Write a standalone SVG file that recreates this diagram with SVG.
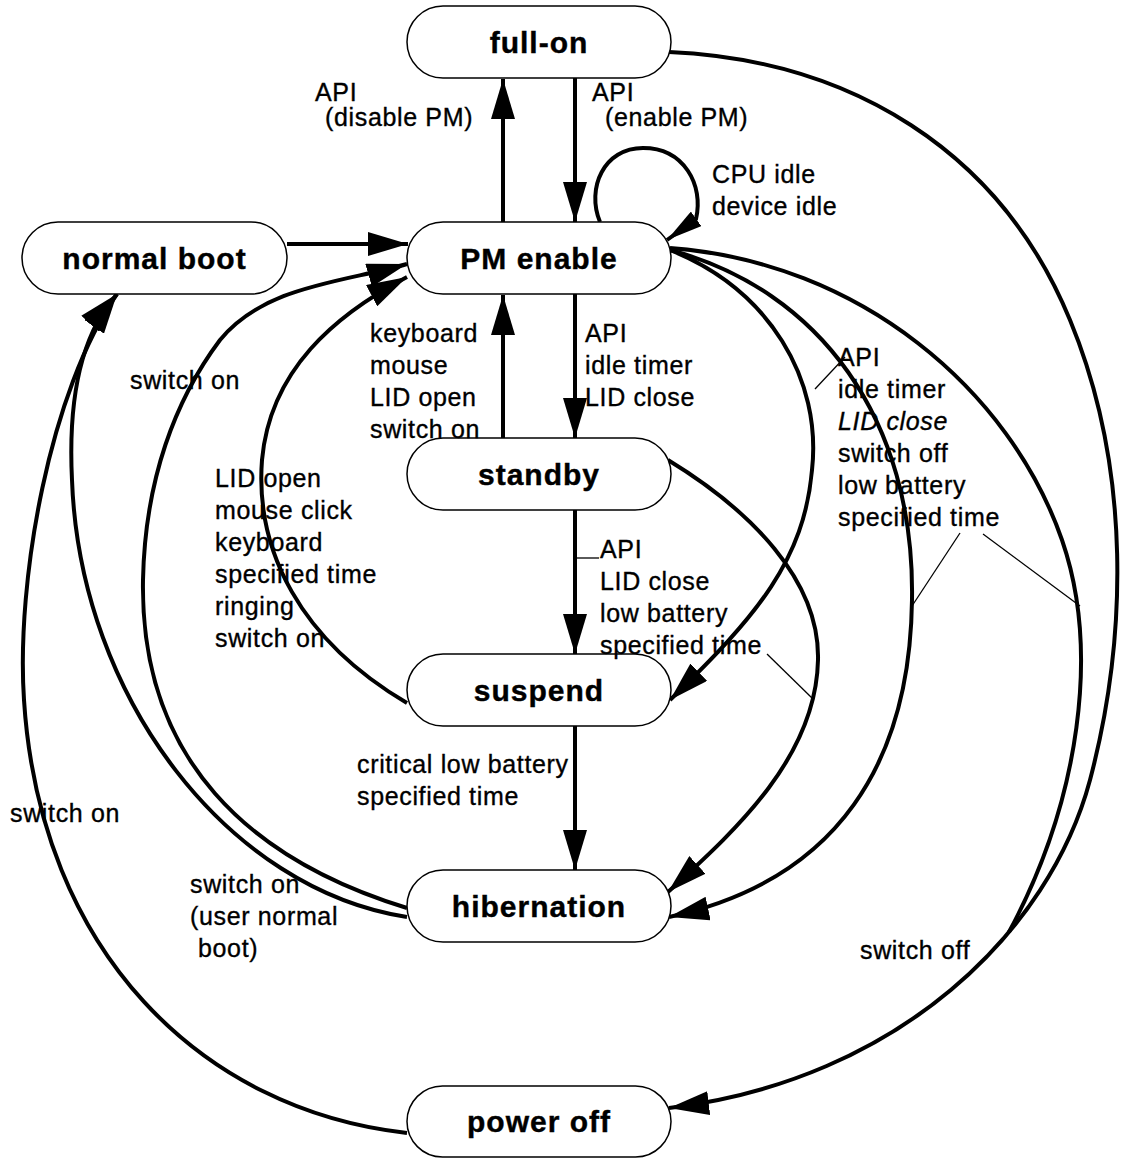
<svg xmlns="http://www.w3.org/2000/svg" width="1121" height="1158" viewBox="0 0 1121 1158">
<defs>
<style>
.node rect{fill:#fff;stroke:#000;stroke-width:1.5}
.node text{font-family:"Liberation Sans",Arial,Helvetica,sans-serif;font-weight:bold;font-size:30px;letter-spacing:1px;text-anchor:middle;fill:#000;stroke:#000;stroke-width:0.4}
.edge{fill:none;stroke:#000;stroke-width:4;marker-end:url(#ah)}
.plain{fill:none;stroke:#000;stroke-width:4}
.loop{fill:none;stroke:#000;stroke-width:4;marker-end:url(#ahs)}
.lead{fill:none;stroke:#000;stroke-width:1.3}
.lbl{font-family:"Liberation Sans",Arial,Helvetica,sans-serif;font-size:25px;letter-spacing:0.65px;fill:#000;stroke:#000;stroke-width:0.35}
</style>
<marker id="ah" markerUnits="userSpaceOnUse" viewBox="0 0 40 24" markerWidth="40" markerHeight="24" refX="40" refY="12" orient="auto"><path d="M0,0 L40,12 L0,24 Z" fill="#000"/></marker>
<marker id="ahs" markerUnits="userSpaceOnUse" viewBox="0 0 36 18" markerWidth="36" markerHeight="18" refX="36" refY="9" orient="auto"><path d="M0,0 L36,9 L0,18 Z" fill="#000"/></marker>
</defs>
<rect width="1121" height="1158" fill="#fff"/>

<g id="connectors">
  <path class="edge" d="M503,222 L503,79"/>
  <path class="edge" d="M575,78 L575,222"/>
  <path class="edge" d="M575,294 L575,438"/>
  <path class="edge" d="M503,438 L503,295"/>
  <path class="edge" d="M575,510 L575,654"/>
  <path class="edge" d="M575,726 L575,870"/>
  <path class="edge" d="M287,244 L408,244"/>
  <path class="loop" d="M600,222 C586,188 604,148 643,148 C684,148 704,185 696,219 L667,240"/>
  <path class="edge" d="M670,250 C770,290 822,380 812,470 C804,560 758,615 670,700"/>
  <path class="edge" d="M668,460 C750,510 820,580 818,660 C816,760 730,835 668,892"/>
  <path class="edge" d="M670,250 C820,290 915,420 912,600 C910,760 840,880 669,917"/>
  <path class="plain" d="M670,248 C860,262 1010,390 1062,540 C1100,650 1080,800 1009,932"/>
  <path class="edge" d="M669,52 C850,60 1000,150 1070,320 C1132,470 1127,640 1090,780 C1050,930 900,1080 669,1108"/>
  <path class="edge" d="M407,703 C300,640 255,550 262,460 C270,370 335,315 407,277"/>
  <path class="edge" d="M407,908 C250,860 140,760 143,580 C145,480 175,400 220,340 C265,285 345,282 407,264"/>
  <path class="edge" d="M407,917 C230,890 80,700 72,480 C68,400 80,335 117,294"/>
  <path class="edge" d="M407,1133 C200,1110 40,950 24,700 C16,580 50,390 117,294"/>
  <path class="lead" d="M577,558 L599,558"/>
  <path class="lead" d="M815,389 L845,357"/>
  <path class="lead" d="M960,533 L912,606"/>
  <path class="lead" d="M983,534 L1080,606"/>
  <path class="lead" d="M767,654 L813,699"/>
</g>

<g id="node-full-on" class="node"><rect x="407" y="6" width="264" height="72" rx="36" ry="36"/><text x="539" y="53">full-on</text></g>
<g id="node-normal-boot" class="node"><rect x="22" y="222" width="265" height="72" rx="36" ry="36"/><text x="154.5" y="269">normal boot</text></g>
<g id="node-pm-enable" class="node"><rect x="407" y="222" width="264" height="72" rx="36" ry="36"/><text x="539" y="269">PM enable</text></g>
<g id="node-standby" class="node"><rect x="407" y="438" width="264" height="72" rx="36" ry="36"/><text x="539" y="485">standby</text></g>
<g id="node-suspend" class="node"><rect x="407" y="654" width="264" height="72" rx="36" ry="36"/><text x="539" y="701">suspend</text></g>
<g id="node-hibernation" class="node"><rect x="407" y="870" width="264" height="72" rx="36" ry="36"/><text x="539" y="917">hibernation</text></g>
<g id="node-power-off" class="node"><rect x="407" y="1086" width="264" height="71" rx="35.5" ry="35.5"/><text x="539" y="1132">power off</text></g>

<g id="labels" class="lbl">
  <text x="315" y="101">API</text>
  <text x="325" y="126">(disable PM)</text>
  <text x="592" y="101">API</text>
  <text x="605" y="126">(enable PM)</text>
  <text x="712" y="183">CPU idle</text>
  <text x="712" y="215">device idle</text>
  <text x="370" y="342">keyboard</text>
  <text x="370" y="374">mouse</text>
  <text x="370" y="406">LID open</text>
  <text x="370" y="438">switch on</text>
  <text x="585" y="342">API</text>
  <text x="585" y="374">idle timer</text>
  <text x="585" y="406">LID close</text>
  <text x="838" y="366">API</text>
  <text x="838" y="398">idle timer</text>
  <text x="838" y="430" font-style="italic">LID close</text>
  <text x="838" y="462">switch off</text>
  <text x="838" y="494">low battery</text>
  <text x="838" y="526">specified time</text>
  <text x="130" y="389">switch on</text>
  <text x="215" y="487">LID open</text>
  <text x="215" y="519">mouse click</text>
  <text x="215" y="551">keyboard</text>
  <text x="215" y="583">specified time</text>
  <text x="215" y="615">ringing</text>
  <text x="215" y="647">switch on</text>
  <text x="600" y="558">API</text>
  <text x="600" y="590">LID close</text>
  <text x="600" y="622">low battery</text>
  <text x="600" y="654">specified time</text>
  <text x="357" y="773">critical low battery</text>
  <text x="357" y="805">specified time</text>
  <text x="10" y="822">switch on</text>
  <text x="190" y="893">switch on</text>
  <text x="190" y="925">(user normal</text>
  <text x="198" y="957">boot)</text>
  <text x="860" y="959">switch off</text>
</g>
</svg>
